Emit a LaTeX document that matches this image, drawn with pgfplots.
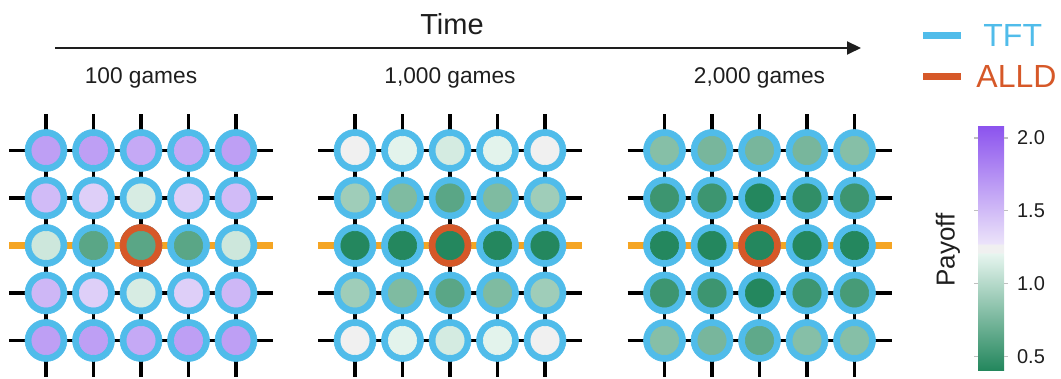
\documentclass[border=0pt]{standalone}
\usepackage{fontspec}
\setmainfont{Liberation Sans}
\usepackage{pgfplots}
\pgfplotsset{compat=1.18}
\usepackage{pgfplotstable}
\usetikzlibrary{arrows.meta,calc}
\definecolor{tft}{RGB}{80,188,234}
\definecolor{alld}{RGB}{214,88,40}
\definecolor{road}{RGB}{245,165,35}
\definecolor{txt}{RGB}{30,30,30}

\pgfplotstableread{
x y v
46 227.5 1.66
93.5 227.5 1.66
141 227.5 1.60
188.5 227.5 1.60
236 227.5 1.66
46 180 1.50
93.5 180 1.39
141 180 1.14
188.5 180 1.39
236 180 1.50
46 132.5 1.10
93.5 132.5 0.63
141 132.5 0.63
188.5 132.5 0.63
236 132.5 1.10
46 85 1.52
93.5 85 1.39
141 85 1.14
188.5 85 1.39
236 85 1.52
46 37.5 1.66
93.5 37.5 1.66
141 37.5 1.60
188.5 37.5 1.66
236 37.5 1.66
}\gridA

\pgfplotstableread{
x y v
355 227.5 1.24
402.5 227.5 1.19
450 227.5 1.13
497.5 227.5 1.19
545 227.5 1.24
355 180 0.91
402.5 180 0.78
450 180 0.63
497.5 180 0.78
545 180 0.91
355 132.5 0.41
402.5 132.5 0.41
450 132.5 0.41
497.5 132.5 0.41
545 132.5 0.41
355 85 0.91
402.5 85 0.78
450 85 0.63
497.5 85 0.78
545 85 0.91
355 37.5 1.24
402.5 37.5 1.19
450 37.5 1.13
497.5 37.5 1.19
545 37.5 1.24
}\gridB

\pgfplotstableread{
x y v
664.5 227.5 0.81
712 227.5 0.75
759.5 227.5 0.75
807 227.5 0.75
854.5 227.5 0.81
664.5 180 0.51
712 180 0.51
759.5 180 0.41
807 180 0.46
854.5 180 0.51
664.5 132.5 0.41
712 132.5 0.41
759.5 132.5 0.41
807 132.5 0.41
854.5 132.5 0.41
664.5 85 0.51
712 85 0.51
759.5 85 0.41
807 85 0.51
854.5 85 0.55
664.5 37.5 0.81
712 37.5 0.75
759.5 37.5 0.65
807 37.5 0.81
854.5 37.5 0.81
}\gridC

\begin{document}
\begin{tikzpicture}
\begin{axis}[
  name=main,
  hide axis, scale only axis,
  width=530.5pt, height=189pt,
  xmin=0, xmax=1061, ymin=0, ymax=378,
  clip=false,
  colormap={payoff}{rgb255(400)=(34,134,92); rgb255(1210)=(232,246,240); rgb255(1211)=(240,240,240); rgb255(1269)=(240,240,240); rgb255(1270)=(236,228,250); rgb255(2090)=(139,82,238)},
  point meta min=0.40, point meta max=2.09,
  colorbar shift/.style={},
  colorbar,
  colorbar style={
    at={($(parent axis.south west)+(489pt,3.5pt)$)}, anchor=south west,
    scale only axis, width=13pt, height=123pt,
    ytick={0.5,1,1.5,2},
    yticklabel pos=right,
    tick align=outside,
    major tick length=2pt,
    tick style={draw=black!25, line width=0.6pt},
    axis line style={draw=none},
    yticklabel style={font=\fontsize{10}{12}\selectfont, text=txt, xshift=1pt,
      /pgf/number format/.cd, fixed, fixed zerofill, precision=1, assume math mode=true},
  },
]
\path (axis cs:0,0) rectangle (axis cs:1061,378);

% grid lines
\addplot[black, line width=1.6pt, unbounded coords=jump] coordinates {
(9,227.5) (273,227.5) (nan,nan) (9,180) (273,180) (nan,nan) (9,85) (273,85) (nan,nan) (9,37.5) (273,37.5) (nan,nan)
(46,1) (46,264) (nan,nan) (93.5,1) (93.5,264) (nan,nan) (141,1) (141,264) (nan,nan) (188.5,1) (188.5,264) (nan,nan) (236,1) (236,264)};
\addplot[black, line width=1.6pt, unbounded coords=jump] coordinates {
(318,227.5) (582,227.5) (nan,nan) (318,180) (582,180) (nan,nan) (318,85) (582,85) (nan,nan) (318,37.5) (582,37.5) (nan,nan)
(355,1) (355,264) (nan,nan) (402.5,1) (402.5,264) (nan,nan) (450,1) (450,264) (nan,nan) (497.5,1) (497.5,264) (nan,nan) (545,1) (545,264)};
\addplot[black, line width=1.6pt, unbounded coords=jump] coordinates {
(627.5,227.5) (891.5,227.5) (nan,nan) (627.5,180) (891.5,180) (nan,nan) (627.5,85) (891.5,85) (nan,nan) (627.5,37.5) (891.5,37.5) (nan,nan)
(664.5,1) (664.5,264) (nan,nan) (712,1) (712,264) (nan,nan) (759.5,1) (759.5,264) (nan,nan) (807,1) (807,264) (nan,nan) (854.5,1) (854.5,264)};
\addplot[road, line width=3.3pt] coordinates {(9,132.5) (273,132.5)};
\addplot[road, line width=3.3pt] coordinates {(318,132.5) (582,132.5)};
\addplot[road, line width=3.3pt] coordinates {(627.5,132.5) (891.5,132.5)};

% rings
\addplot[only marks, mark=*, mark size=10.5pt, mark options={fill=tft, draw=tft, line width=0.3pt}] table[x=x,y=y] {\gridA};
\addplot[only marks, mark=*, mark size=10.5pt, mark options={fill=tft, draw=tft, line width=0.3pt}] table[x=x,y=y] {\gridB};
\addplot[only marks, mark=*, mark size=10.5pt, mark options={fill=tft, draw=tft, line width=0.3pt}] table[x=x,y=y] {\gridC};
\addplot[only marks, mark=*, mark size=10.5pt, mark options={fill=alld, draw=alld, line width=0.3pt}] coordinates {(141,132.5) (450,132.5) (759.5,132.5)};

% payoff fills
\addplot[scatter, only marks, mark=*, mark size=7.1pt, mark options={line width=0.3pt}, point meta=\thisrow{v}, scatter/use mapped color={draw=mapped color, fill=mapped color}] table[x=x,y=y] {\gridA};
\addplot[scatter, only marks, mark=*, mark size=7.1pt, mark options={line width=0.3pt}, point meta=\thisrow{v}, scatter/use mapped color={draw=mapped color, fill=mapped color}] table[x=x,y=y] {\gridB};
\addplot[scatter, only marks, mark=*, mark size=7.1pt, mark options={line width=0.3pt}, point meta=\thisrow{v}, scatter/use mapped color={draw=mapped color, fill=mapped color}] table[x=x,y=y] {\gridC};

% time arrow
\addplot[txt, line width=1pt, -{Triangle[length=7pt,width=6.5pt]}] coordinates {(55,330) (861,330)};
\node[text=txt, font=\fontsize{14.5}{17}\selectfont] at (axis cs:452,354) {Time};
\node[text=txt, font=\fontsize{11.35}{13}\selectfont, anchor=base] at (axis cs:141,294) {100 games};
\node[text=txt, font=\fontsize{11.35}{13}\selectfont, anchor=base] at (axis cs:450,294) {1,000 games};
\node[text=txt, font=\fontsize{11.35}{13}\selectfont, anchor=base] at (axis cs:759.5,294) {2,000 games};

% legend
\addplot[tft, line width=3.5pt] coordinates {(923,342) (961,342)};
\addplot[alld, line width=3.5pt] coordinates {(923,301.5) (961,301.5)};
\node[text=tft, font=\fontsize{16}{19}\selectfont, anchor=west, inner sep=0pt] at (axis cs:983,342) {TFT};
\node[text=alld, font=\fontsize{16}{19}\selectfont, anchor=west, inner sep=0pt] at (axis cs:976,301.5) {ALLD};

% colorbar label
\node[text=txt, font=\fontsize{13}{15}\selectfont, rotate=90] at (axis cs:948,128) {Payoff};
\end{axis}
\end{tikzpicture}
\end{document}
